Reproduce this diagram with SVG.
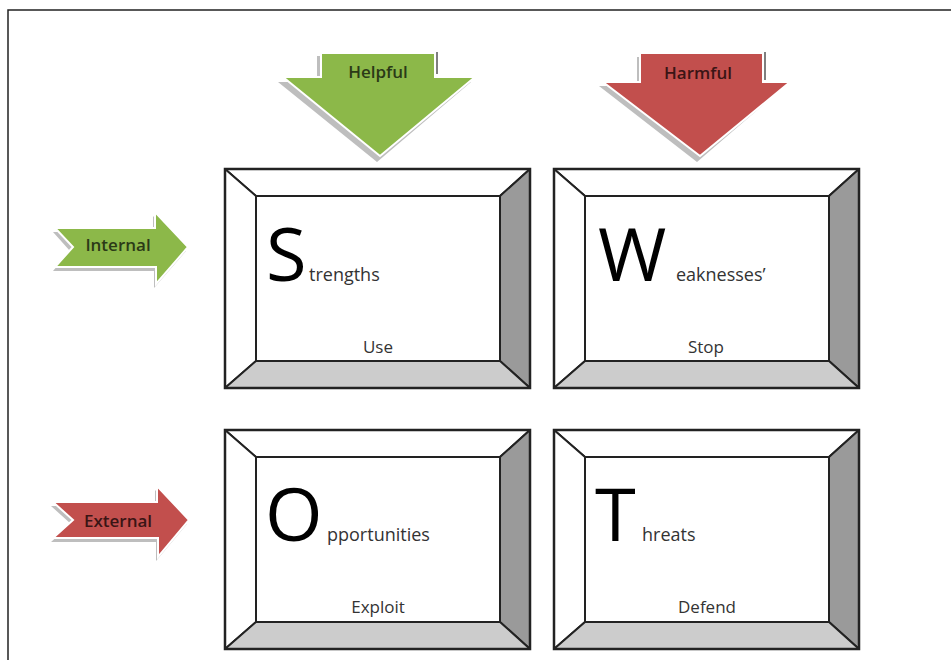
<svg xmlns="http://www.w3.org/2000/svg" width="951" height="660" viewBox="0 0 951 660">
<style>
.big{font-family:"Open Sans","Liberation Sans",sans-serif;font-size:74px;fill:#000}
.sm{font-family:"Open Sans","Liberation Sans",sans-serif;font-size:18px;fill:#333}
.lab{font-family:"Open Sans","Liberation Sans",sans-serif;font-size:17px;fill:#333;text-anchor:middle}
.alab{font-family:"Open Sans","Liberation Sans",sans-serif;font-size:17px;font-weight:600;text-anchor:middle}
.bev{stroke:#222;stroke-width:2;stroke-linejoin:round}
.shadow{fill:#a8a8a8;opacity:0.75}
.green{fill:#8cb849;stroke:#ffffff;stroke-width:2}
.red{fill:#c24f4d;stroke:#ffffff;stroke-width:2}
</style>
<defs>
<g id="bevelbox">
<polygon class="bev" points="0,0 305,0 275,27 31,27" fill="#ffffff"/>
<polygon class="bev" points="0,0 31,27 31,192 0,219" fill="#ffffff"/>
<polygon class="bev" points="305,0 305,219 275,192 275,27" fill="#9a9a9a"/>
<polygon class="bev" points="0,219 31,192 275,192 305,219" fill="#cccccc"/>
<rect x="31" y="27" width="244" height="165" fill="#ffffff" stroke="#222" stroke-width="2"/>
<rect x="0" y="0" width="305" height="219" fill="none" stroke="#222" stroke-width="2.5"/>
</g>
</defs>
<rect width="951" height="660" fill="#ffffff"/>
<g id="frame">
<polyline points="8,660 8,10 951,10" fill="none" stroke="#222" stroke-width="1.5"/>
</g>
<g id="helpful">
<polygon class="shadow" points="318,54 434,54 434,80 472,80 378,160 279,80 318,80" transform="translate(-1,2)"/>
<line x1="437" y1="52" x2="437" y2="74" stroke="#555" stroke-width="1.5"/>
<polygon class="green" points="321,53 435,53 435,77 475,77 380,156 283,77 321,77"/>
<text class="alab" x="378" y="78" fill="#2b3a17">Helpful</text>
</g>
<g id="harmful">
<polygon class="shadow" points="638,55 762,55 762,84 786,84 698,160 600,84 638,84" transform="translate(-1,2)"/>
<line x1="765" y1="52" x2="765" y2="80" stroke="#555" stroke-width="1.5"/>
<polygon class="red" points="640,53 763,53 763,82 790,82 700,156 603,82 640,82"/>
<text class="alab" x="698" y="79" fill="#3a1515">Harmful</text>
</g>
<g id="internal">
<polygon class="shadow" points="55,228 155,228 155,212 188,247 156,284 156,267 55,267 72,247" transform="translate(-2,4)"/>
<polygon class="green" points="55,228 155,228 155,212 188,247 156,284 156,267 55,267 73,247"/>
<text class="alab" x="118" y="251" fill="#2b3a17">Internal</text>
</g>
<g id="external">
<polygon class="shadow" points="53,502 157,502 157,486 189,520 158,557 158,538 53,538 73,520" transform="translate(-2,4)"/>
<polygon class="red" points="53,502 157,502 157,486 189,520 158,557 158,538 53,538 73,520"/>
<text class="alab" x="118" y="527" fill="#3a1515">External</text>
</g>
<g id="strengths">
<use href="#bevelbox" x="225" y="169"/>
<text class="big" x="266" y="281">S</text>
<text class="sm" x="309" y="281">trengths</text>
<text class="lab" x="378" y="353">Use</text>
</g>
<g id="weaknesses">
<use href="#bevelbox" x="554" y="169"/>
<text class="big" x="598" y="281">W</text>
<text class="sm" x="676" y="281">eaknesses’</text>
<text class="lab" x="706" y="353">Stop</text>
</g>
<g id="opportunities">
<use href="#bevelbox" x="225" y="430"/>
<text class="big" x="265" y="541">O</text>
<text class="sm" x="327" y="541">pportunities</text>
<text class="lab" x="378" y="613">Exploit</text>
</g>
<g id="threats">
<use href="#bevelbox" x="554" y="430"/>
<text class="big" x="595" y="541">T</text>
<text class="sm" x="642" y="541">hreats</text>
<text class="lab" x="707" y="613">Defend</text>
</g>
</svg>
